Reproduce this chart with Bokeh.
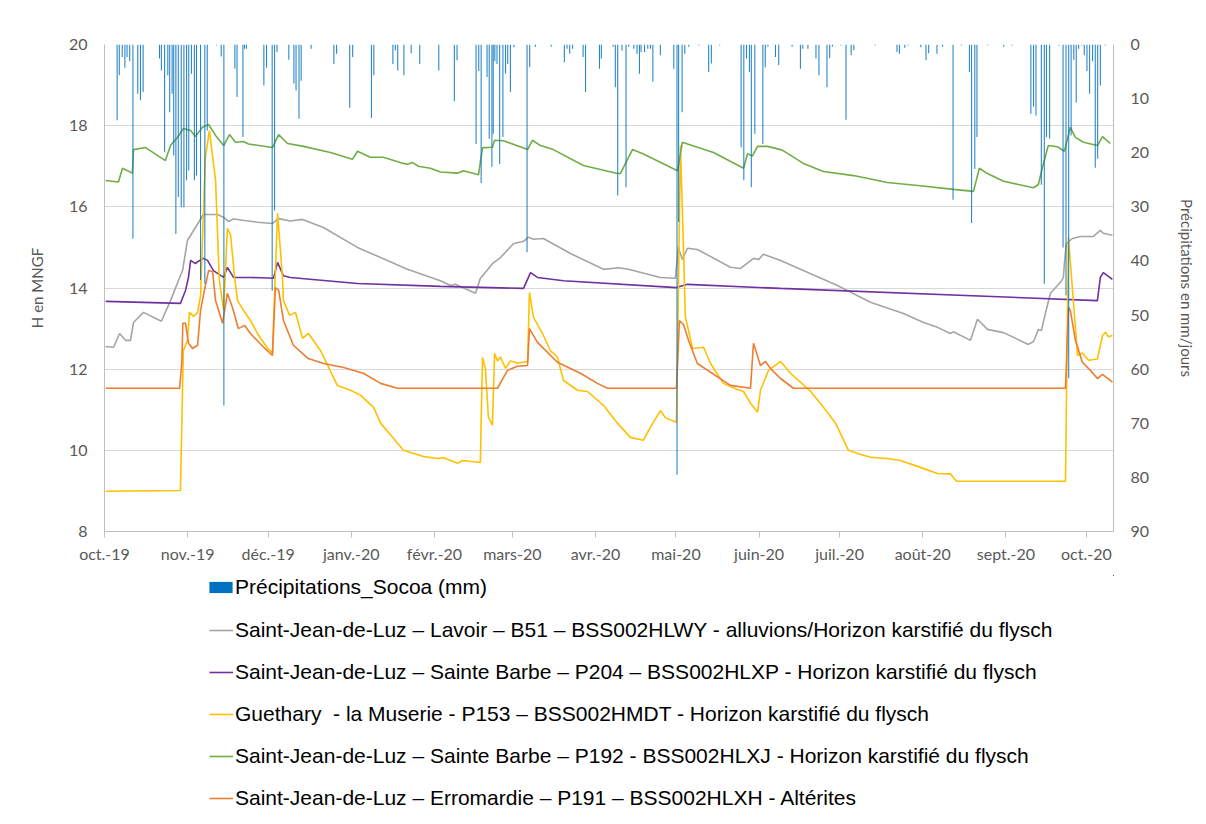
from bokeh.plotting import figure
from bokeh.layouts import column
from bokeh.models import Range1d, LinearAxis, FixedTicker, Legend, LegendItem
from bokeh.embed import file_html
from bokeh.resources import INLINE

# ---------------- data (x = days since 1 Oct 2019) ----------------
month_days = [0, 31, 61, 92, 123, 152, 183, 213, 244, 274, 305, 336, 366]
month_labels = ["oct.-19", "nov.-19", "déc.-19", "janv.-20", "févr.-20", "mars-20",
                "avr.-20", "mai-20", "juin-20", "juil.-20", "août-20", "sept.-20", "oct.-20"]
h_ticks = [8, 10, 12, 14, 16, 18, 20]
precip_ticks = [0, 10, 20, 30, 40, 50, 60, 70, 80, 90]

gray_day = [0.4, 3.4, 5.6, 7.8, 9.7, 10.8, 14.5, 21.2, 24.6, 27.6, 29.1, 30.9, 33.9, 36.9, 42.1, 44.4,
            46.2, 48.1, 57.0, 62.6, 64.9, 69.3, 73.8, 81.6, 94.3, 112.9, 125.2, 129.0, 130.8, 138.3,
            140.1, 141.3, 144.6, 147.6, 152.4, 156.2, 158.0, 159.9, 163.6, 173.7, 186.0, 191.6, 195.3,
            207.2, 212.8, 213.9, 215.4, 217.3, 221.0, 233.3, 237.0, 241.9, 243.8, 245.6, 252.0, 260.5,
            273.2, 285.5, 297.8, 305.3, 310.5, 315.3, 316.4, 322.8, 325.4, 329.1, 335.1, 344.4, 346.3,
            348.1, 349.2, 350.7, 352.6, 356.3, 357.4, 357.8, 358.5, 360.8, 363.8, 368.6, 371.2, 372.3,
            375.7]
gray_h = [12.56, 12.54, 12.88, 12.71, 12.71, 13.15, 13.40, 13.18, 13.69, 14.19, 14.43, 15.17, 15.49,
          15.81, 15.81, 15.74, 15.64, 15.70, 15.62, 15.59, 15.71, 15.65, 15.69, 15.49, 15.00, 14.46,
          14.18, 14.06, 14.09, 13.87, 14.24, 14.33, 14.60, 14.75, 15.09, 15.15, 15.25, 15.20, 15.22,
          14.85, 14.46, 14.50, 14.46, 14.26, 14.24, 15.00, 14.70, 14.98, 14.95, 14.51, 14.48, 14.73,
          14.70, 14.83, 14.68, 14.43, 14.06, 13.65, 13.37, 13.15, 13.03, 12.88, 12.92, 12.71, 13.23,
          12.98, 12.90, 12.61, 12.68, 12.98, 12.95, 13.37, 13.87, 14.14, 14.25, 14.60, 15.09, 15.22,
          15.27, 15.27, 15.42, 15.35, 15.30]

purple_day = [0.4, 28.3, 30.2, 31.3, 32.1, 33.9, 35.0, 36.9, 38.4, 40.6, 44.4, 45.8, 48.1, 54.4, 63.0,
              64.5, 66.7, 69.3, 94.3, 125.2, 156.2, 158.8, 161.4, 171.1, 213.2, 217.3, 252.0, 370.1,
              371.2, 372.3, 375.7]
purple_h = [13.67, 13.62, 13.94, 14.26, 14.68, 14.60, 14.66, 14.73, 14.68, 14.43, 14.26, 14.51, 14.26,
            14.26, 14.24, 14.63, 14.30, 14.26, 14.11, 14.04, 13.99, 14.38, 14.26, 14.18, 14.01, 14.09,
            13.99, 13.69, 14.26, 14.38, 14.21]

yellow_day = [0.4, 28.3, 29.4, 30.9, 31.7, 33.2, 34.7, 35.8, 37.6, 39.1, 41.4, 42.8, 44.4, 45.8, 47.0,
              48.5, 49.6, 51.8, 54.4, 57.0, 60.8, 62.6, 64.5, 66.3, 66.7, 69.0, 71.2, 73.8, 76.0, 80.5,
              86.8, 91.7, 95.4, 100.3, 102.9, 107.7, 111.4, 118.9, 124.1, 126.4, 131.6, 133.4, 140.1,
              140.9, 142.0, 143.1, 144.6, 145.4, 146.5, 147.6, 149.5, 151.3, 153.9, 157.7, 158.4, 159.9,
              163.6, 166.2, 168.8, 171.1, 176.3, 180.0, 186.0, 191.2, 196.0, 200.9, 203.5, 207.2, 209.1,
              213.2, 214.7, 215.8, 216.5, 219.2, 223.3, 225.9, 230.7, 235.9, 238.2, 240.8, 243.4, 244.5,
              247.5, 252.0, 255.7, 263.1, 268.0, 272.5, 277.3, 280.7, 285.5, 291.8, 296.7, 304.1, 310.5,
              315.3, 317.6, 358.2, 359.3, 362.7, 364.5, 366.8, 370.1, 372.0, 373.1, 374.2, 375.7]
yellow_h = [8.99, 9.01, 12.46, 12.70, 13.40, 13.30, 13.40, 13.80, 17.22, 17.88, 16.65, 14.20, 13.45,
            15.47, 15.30, 14.26, 13.69, 13.45, 13.20, 12.88, 12.51, 12.40, 15.84, 14.30, 13.69, 13.33,
            13.40, 12.76, 12.88, 12.46, 11.60, 11.48, 11.36, 11.06, 10.67, 10.30, 10.00, 9.85, 9.80,
            9.82, 9.68, 9.75, 9.70, 12.29, 12.00, 10.81, 10.62, 12.39, 12.20, 12.30, 12.02, 12.20, 12.15,
            12.19, 13.89, 13.28, 12.83, 12.46, 12.30, 11.72, 11.48, 11.45, 11.11, 10.67, 10.32, 10.25,
            10.57, 10.98, 10.80, 10.69, 17.51, 15.00, 13.30, 12.51, 12.54, 12.14, 11.65, 11.50, 11.45,
            11.16, 10.94, 11.48, 11.97, 12.19, 11.90, 11.46, 11.06, 10.67, 10.00, 9.92, 9.83, 9.80, 9.75,
            9.58, 9.43, 9.42, 9.24, 9.24, 15.25, 12.34, 12.40, 12.22, 12.25, 12.83, 12.91, 12.80, 12.83]

green_day = [0.4, 5.2, 6.7, 10.4, 10.8, 15.3, 22.7, 24.6, 27.2, 29.4, 32.1, 33.9, 36.5, 38.8, 41.4, 44.4,
             46.6, 48.8, 51.8, 53.7, 62.6, 64.9, 68.2, 74.2, 84.2, 92.4, 94.3, 99.1, 104.0, 111.4, 112.9,
             114.8, 117.0, 121.5, 125.2, 131.6, 133.8, 139.4, 140.9, 142.0, 144.6, 145.4, 148.7, 157.7,
             159.5, 162.5, 167.3, 178.5, 191.2, 192.3, 194.2, 196.8, 200.9, 213.6, 215.4, 217.3, 227.0,
             238.2, 239.7, 241.5, 243.4, 247.1, 252.0, 253.1, 260.5, 268.0, 279.2, 291.8, 304.1, 316.4,
             323.9, 326.1, 329.1, 335.1, 346.3, 348.1, 349.6, 351.8, 355.2, 357.8, 360.0, 361.9, 364.9,
             370.1, 372.0, 374.9]
green_h = [16.65, 16.61, 16.95, 16.83, 17.41, 17.46, 17.14, 17.51, 17.71, 17.93, 17.88, 17.73, 17.96,
           18.03, 17.76, 17.51, 17.78, 17.59, 17.61, 17.55, 17.46, 17.78, 17.56, 17.49, 17.34, 17.17,
           17.37, 17.22, 17.22, 17.07, 17.05, 17.09, 17.00, 16.95, 16.86, 16.83, 16.89, 16.79, 17.46,
           17.46, 17.47, 17.64, 17.63, 17.41, 17.64, 17.51, 17.41, 17.02, 16.82, 16.82, 17.07, 17.41,
           17.30, 16.89, 17.59, 17.55, 17.34, 16.95, 17.31, 17.25, 17.49, 17.49, 17.41, 17.38, 17.07,
           16.87, 16.77, 16.60, 16.52, 16.43, 16.38, 16.95, 16.82, 16.63, 16.47, 16.55, 16.97, 17.51,
           17.48, 17.37, 17.96, 17.71, 17.59, 17.51, 17.73, 17.56]

orange_day = [0.4, 28.0, 28.8, 29.2, 30.2, 31.3, 32.8, 34.7, 35.8, 37.6, 38.8, 40.3, 41.4, 44.0, 45.8,
              47.7, 49.9, 52.2, 54.4, 59.3, 62.6, 63.7, 64.9, 66.7, 70.4, 75.7, 81.6, 89.1, 96.5, 102.9,
              109.2, 146.5, 150.2, 153.9, 157.7, 158.4, 161.4, 168.8, 177.4, 183.7, 187.5, 213.2, 214.3,
              215.8, 217.7, 221.0, 233.3, 240.8, 241.9, 244.5, 246.4, 248.2, 252.0, 256.8, 358.2, 359.3,
              360.0, 361.9, 364.5, 367.5, 370.1, 372.0, 375.7]
orange_h = [11.53, 11.53, 12.14, 13.13, 13.13, 12.64, 12.51, 12.59, 13.45, 14.06, 14.43, 14.40, 13.69,
            13.13, 13.87, 13.52, 13.00, 13.08, 12.88, 12.54, 12.34, 14.01, 13.95, 13.20, 12.59, 12.27,
            12.14, 12.04, 11.90, 11.65, 11.53, 11.53, 11.97, 12.07, 12.09, 13.00, 12.66, 12.17, 11.90,
            11.65, 11.53, 11.53, 13.20, 13.10, 12.71, 12.14, 11.60, 11.53, 12.64, 12.09, 12.19, 12.02,
            11.77, 11.53, 11.53, 13.52, 13.45, 12.71, 12.17, 11.97, 11.77, 11.87, 11.68]

precip_day = [4.7, 5.5, 6.6, 7.6, 8.4, 9.4, 10.6, 12.4, 13.4, 14.4, 20.5, 21.2, 22.4, 23.6, 24.3, 25.2,
              25.8, 26.6, 27.5, 28.6, 29.6, 30.6, 31.4, 32.4, 33.5, 34.3, 35.8, 37.4, 38.3, 41.7, 43.5,
              44.5, 48.6, 49.4, 51.6, 52.2, 52.9, 59.4, 60.4, 62.5, 63.4, 64.3, 68.7, 70.6, 71.4, 72.5,
              73.3, 77.0, 85.5, 86.5, 91.4, 92.5, 99.5, 100.4, 107.5, 108.4, 109.3, 111.6, 114.3, 117.5,
              124.6, 130.4, 131.4, 138.5, 139.5, 140.4, 142.6, 143.4, 144.4, 144.9, 145.5, 146.3, 147.3,
              148.5, 149.5, 150.3, 151.3, 152.6, 157.5, 158.5, 160.6, 166.5, 171.4, 172.4, 173.4, 174.5,
              178.4, 179.3, 184.5, 185.2, 189.6, 190.4, 191.3, 192.9, 194.4, 195.4, 197.3, 198.5, 199.4,
              200.0, 201.3, 202.5, 203.5, 204.4, 207.2, 212.2, 213.4, 214.0, 215.3, 216.3, 217.8, 221.5,
              225.2, 226.2, 229.3, 237.3, 238.3, 239.3, 240.4, 241.1, 242.4, 245.4, 246.3, 247.3, 250.1,
              251.3, 256.3, 259.4, 260.3, 262.2, 265.2, 266.3, 269.3, 270.3, 271.3, 274.5, 276.4, 278.3,
              279.3, 287.3, 295.4, 296.3, 298.3, 299.5, 304.3, 306.2, 307.2, 310.3, 312.4, 316.3, 319.4,
              322.4, 323.2, 324.4, 325.2, 329.2, 335.2, 338.3, 345.3, 346.3, 347.2, 349.2, 350.3, 351.1,
              352.3, 355.7, 357.3, 358.4, 359.4, 360.3, 361.3, 362.2, 363.1, 364.3, 365.2, 366.2, 367.2,
              368.3, 369.3, 370.2, 371.2, 373.0]
precip_mm = [14.0, 5.7, 2.3, 4.3, 2.3, 3.1, 35.9, 9.1, 10.3, 8.8, 2.6, 4.8, 19.9, 5.7, 12.5, 9.1,
             20.5, 35.0, 28.2, 30.1, 30.1, 25.1, 23.3, 5.4, 25.1, 24.2, 43.5, 44.2, 15.9, 0.2, 2.2,
             66.7, 4.5, 9.7, 17.1, 0.8, 0.8, 7.6, 4.3, 45.5, 30.7, 1.4, 2.8, 7.2, 8.5, 13.7,
             6.7, 0.8, 3.6, 1.7, 11.7, 2.3, 13.6, 5.7, 3.6, 1.1, 4.8, 5.7, 1.6, 3.6,
             4.8, 10.5, 2.9, 18.4, 4.9, 25.6, 6.0, 17.4, 22.6, 16.5, 3.1, 3.6, 22.1,
             17.1, 5.4, 3.6, 8.8, 0.5, 38.4, 4.2, 0.4, 0.4, 3.3, 0.8, 1.7, 0.8,
             2.3, 8.8, 4.5, 2.6, 0.4, 7.9, 27.9, 1.1, 26.4, 0.4, 0.8, 1.7, 5.4,
             1.4, 1.4, 0.8, 0.8, 6.9, 2.0, 4.5, 79.5, 32.8, 12.5, 1.7, 0.4, 0.2,
             5.1, 3.5, 0.2, 19.0, 25.1, 2.6, 5.1, 26.4, 16.5, 18.4, 4.2, 0.4, 2.3,
             3.8, 0.4, 4.5, 0.8, 0.8, 2.6, 5.7, 7.9, 2.5, 0.4, 0.2, 13.9, 2.0,
             1.0, 0.2, 1.4, 1.7, 0.6, 0.2, 0.5, 2.9, 1.6, 1.7, 0.4, 28.7, 0.2,
             5.1, 33.0, 23.0, 17.1, 0.2, 0.4, 0.2, 12.8, 11.5, 13.1, 25.9, 44.2, 17.1,
             17.4, 0.2, 37.5, 46.4, 61.7, 16.8, 2.8, 10.7, 0.8, 0.2, 2.0, 4.9, 9.1,
             3.1, 22.8, 21.1, 7.6, 0.2]

precip_label = "Précipitations_Socoa (mm)"
precip_color = "#0070C0"

series = [
    ("Saint-Jean-de-Luz – Lavoir – B51 – BSS002HLWY - alluvions/Horizon karstifié du flysch",
     gray_day, gray_h, "#A5A5A5"),
    ("Saint-Jean-de-Luz – Sainte Barbe – P204 – BSS002HLXP - Horizon karstifié du flysch",
     purple_day, purple_h, "#7030A0"),
    ("Guethary  - la Muserie - P153 – BSS002HMDT - Horizon karstifié du flysch",
     yellow_day, yellow_h, "#FFC000"),
    ("Saint-Jean-de-Luz – Sainte Barbe – P192 - BSS002HLXJ - Horizon karstifié du flysch",
     green_day, green_h, "#70AD47"),
    ("Saint-Jean-de-Luz – Erromardie – P191 – BSS002HLXH - Altérites",
     orange_day, orange_h, "#ED7D31"),
]

# ---------------- main chart ----------------
p = figure(width=1200, height=575, output_backend="svg", toolbar_location=None,
           x_range=Range1d(0, 376.1), y_range=Range1d(8, 20),
           min_border_left=104, min_border_right=87, min_border_top=44, min_border_bottom=44)
p.outline_line_color = None
p.background_fill_color = "white"
p.border_fill_color = "white"

p.extra_y_ranges = {"precip": Range1d(start=90, end=0)}

tick_font = "Lato"
tick_color = "#595959"
axis_gray = "#BFBFBF"

xa = p.xaxis[0]
xa.ticker = FixedTicker(ticks=month_days)
xa.major_label_overrides = {d: lab for d, lab in zip(month_days, month_labels)}
xa.minor_tick_line_color = None
xa.major_tick_in = 0
xa.major_tick_out = 6
xa.major_tick_line_color = axis_gray
xa.axis_line_color = axis_gray
xa.major_label_text_font = tick_font
xa.major_label_text_font_size = "16px"
xa.major_label_text_color = tick_color
xa.major_label_standoff = 6

ya = p.yaxis[0]
ya.ticker = FixedTicker(ticks=h_ticks)
ya.minor_tick_line_color = None
ya.major_tick_in = 0
ya.major_tick_out = 0
ya.axis_line_color = axis_gray
ya.major_label_text_font = tick_font
ya.major_label_text_font_size = "16px"
ya.major_label_text_color = tick_color
ya.major_label_standoff = 17
ya.axis_label = "H en MNGF"
ya.axis_label_text_font = tick_font
ya.axis_label_text_font_size = "15px"
ya.axis_label_text_font_style = "normal"
ya.axis_label_text_color = tick_color
ya.axis_label_standoff = 20

ra = LinearAxis(y_range_name="precip", ticker=FixedTicker(ticks=precip_ticks),
                axis_label="Précipitations en mm/jours")
ra.minor_tick_line_color = None
ra.major_tick_in = 0
ra.major_tick_out = 0
ra.axis_line_color = axis_gray
ra.major_label_text_font = tick_font
ra.major_label_text_font_size = "16px"
ra.major_label_text_color = tick_color
ra.major_label_standoff = 17
ra.axis_label_text_font = tick_font
ra.axis_label_text_font_size = "15px"
ra.axis_label_text_font_style = "normal"
ra.axis_label_text_color = tick_color
ra.axis_label_standoff = 26
p.add_layout(ra, "right")

p.xgrid.visible = False
p.ygrid.grid_line_color = "#D9D9D9"
p.ygrid.grid_line_width = 1

for label, xs, ys, color in series:
    p.line(xs, ys, line_color=color, line_width=1.6)

p.vbar(x=precip_day, top=0, bottom=precip_mm, width=0.4, y_range_name="precip",
       fill_color=precip_color, fill_alpha=0.85, line_color=None)

# ---------------- legend panel (below the chart) ----------------
# The legend strip reuses the same series; its ranges keep the glyphs out of view,
# so only the legend keys and labels show.
lg = figure(width=1200, height=245, output_backend="svg", toolbar_location=None,
            x_range=Range1d(-2, -1), y_range=Range1d(-2, -1),
            x_axis_location=None, y_axis_location=None, min_border=0)
lg.outline_line_color = None
lg.grid.visible = False

bar_key = lg.vbar(x=precip_day, top=0, bottom=precip_mm, width=0.4,
                  fill_color=precip_color, line_color=None)
line_keys = [(label, lg.line(xs, ys, line_color=color, line_width=1.6))
             for label, xs, ys, color in series]

common = dict(padding=0, margin=0, border_line_color=None, background_fill_alpha=0,
              label_text_font="Liberation Sans", label_text_font_size="21px",
              label_text_color="#000000", label_height=24, spacing=18)

leg_bar = Legend(items=[LegendItem(label=precip_label, renderers=[bar_key])],
                 location=(102, 221), glyph_width=29, glyph_height=14,
                 label_standoff=0, **common)
leg_lines = Legend(items=[LegendItem(label=l, renderers=[r]) for l, r in line_keys],
                   location=(105, 10), glyph_width=24, glyph_height=24,
                   label_standoff=2, **common)
lg.add_layout(leg_bar, "center")
lg.add_layout(leg_lines, "center")

layout = column(p, lg, spacing=0)
open("out.html", "w").write(file_html(layout, INLINE))
